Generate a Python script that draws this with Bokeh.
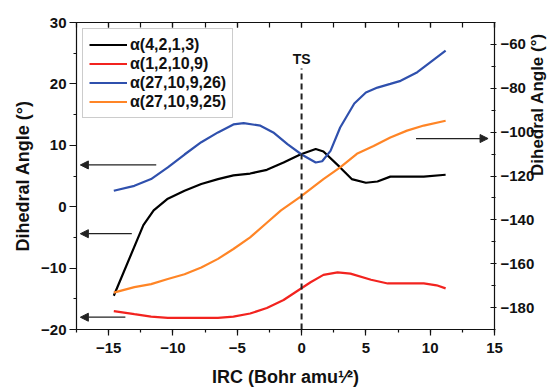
import math
from bokeh.plotting import figure
from bokeh.models import (Range1d, LinearAxis, Arrow, NormalHead, Label,
                          Legend, LegendItem, SingleIntervalTicker, CustomJSTickFormatter)
from bokeh.embed import file_html
from bokeh.resources import INLINE

# ---------------- data ----------------
black_x = [-14.6, -12.3, -11.5, -10.4, -9.1, -7.8, -6.5, -5.3, -4.0, -2.7, -1.4, -0.1,
           1.1, 1.7, 3.0, 3.9, 5.0, 5.9, 6.9, 8.2, 9.5, 11.2]
black_y = [-14.5, -3.0, -0.6, 1.3, 2.6, 3.7, 4.5, 5.1, 5.4, 6.0, 7.2, 8.5,
           9.4, 9.0, 6.4, 4.5, 3.9, 4.1, 4.9, 4.9, 4.9, 5.2]

red_x = [-14.6, -13.0, -11.7, -10.4, -7.8, -6.5, -5.3, -4.0, -2.7, -1.4, -0.1, 0.7,
         1.7, 2.8, 3.8, 5.4, 6.7, 8.2, 9.5, 10.5, 11.2]
red_y = [-17.0, -17.5, -17.9, -18.1, -18.1, -18.1, -17.9, -17.4, -16.5, -15.2, -13.4, -12.3,
         -11.1, -10.7, -10.9, -11.9, -12.5, -12.5, -12.5, -12.8, -13.3]

blue_x = [-14.6, -13.0, -11.7, -10.4, -9.1, -7.8, -6.5, -5.3, -4.5, -3.2, -2.2, -1.1, 0.0,
          1.1, 1.6, 2.25, 3.0, 4.1, 5.0, 5.9, 6.9, 7.7, 9.0, 10.0, 11.2]
blue_y = [2.6, 3.4, 4.5, 6.4, 8.5, 10.5, 12.1, 13.4, 13.6, 13.2, 12.1, 10.2, 8.5,
          7.2, 7.4, 9.1, 12.9, 16.8, 18.6, 19.4, 20.0, 20.5, 21.9, 23.5, 25.4]

# orange series is read on the right-hand axis
orange_x = [-14.6, -13.0, -11.7, -10.4, -9.1, -7.8, -6.5, -5.3, -4.0, -2.7, -1.6, -0.1,
            1.7, 3.0, 4.3, 5.6, 6.9, 8.2, 9.5, 11.2]
orange_y = [-173.2, -170.7, -169.3, -167.0, -164.8, -161.7, -157.8, -153.3, -148.0, -141.3,
            -135.7, -129.5, -121.4, -116.1, -109.9, -106.3, -102.4, -99.3, -97.0, -94.8]

labels = ["\u03b1(4,2,1,3)", "\u03b1(1,2,10,9)", "\u03b1(27,10,9,26)", "\u03b1(27,10,9,25)"]
colors = ["#000000", "#f2231f", "#2f50ad", "#ff8526"]

# arrows (left-axis coordinates): start x, end x, y
arrow_x0 = [-11.3, -13.2, -13.7, 8.9]
arrow_x1 = [-17.2, -17.2, -17.2, 14.5]
arrow_y = [6.8, -4.4, -18.0, 11.1]

ts_x = 0
ts_top = 22.5

X_RANGE = (-17.5, 15)
Y_LEFT = (-20, 30)
Y_RIGHT = (-190, -50)

X_TITLE = "IRC (Bohr amu\u00b9\u2044\u00b2)"
Y_TITLE = "Dihedral Angle (\u00b0)"

FONT = "Liberation Sans"

# ---------------- figure ----------------
p = figure(width=559, height=391, output_backend="svg", toolbar_location=None,
           x_range=Range1d(*X_RANGE), y_range=Range1d(*Y_LEFT),
           min_border_left=76, min_border_right=65, min_border_top=22, min_border_bottom=62)
p.extra_y_ranges = {"right": Range1d(*Y_RIGHT)}
p.grid.visible = False
p.outline_line_color = None
p.background_fill_color = "white"
p.border_fill_color = "white"

def style_axis(ax):
    ax.axis_line_color = "#111111"
    ax.axis_line_width = 1.2
    ax.major_tick_line_color = "#111111"
    ax.minor_tick_line_color = "#111111"
    ax.major_tick_line_width = 1.2
    ax.minor_tick_line_width = 1.2
    ax.major_label_text_font = FONT
    ax.major_label_text_font_style = "bold"
    ax.major_label_text_font_size = "15px"
    ax.major_label_text_color = "#111111"
    ax.axis_label_text_font = FONT
    ax.axis_label_text_font_style = "bold"
    ax.axis_label_text_font_size = "18px"
    ax.axis_label_text_color = "#111111"

# bottom axis
xa = p.xaxis[0]
xa.ticker = SingleIntervalTicker(interval=5, num_minor_ticks=2)
style_axis(xa)
xa.major_tick_out = 6
xa.major_tick_in = 0
xa.minor_tick_out = 3
xa.minor_tick_in = 0
xa.major_label_standoff = 7
xa.axis_label = X_TITLE
xa.axis_label_standoff = 11

# left axis
ya = p.yaxis[0]
ya.ticker = SingleIntervalTicker(interval=10, num_minor_ticks=2)
style_axis(ya)
ya.major_tick_out = 7
ya.major_tick_in = 0
ya.minor_tick_out = 3
ya.minor_tick_in = 0
ya.major_label_standoff = 3
ya.axis_label = Y_TITLE
ya.axis_label_standoff = 5

# top axis (mirror, ticks inward, no labels)
ta = LinearAxis(ticker=SingleIntervalTicker(interval=5, num_minor_ticks=2),
                formatter=CustomJSTickFormatter(code="return ''"))
style_axis(ta)
ta.major_label_standoff = 0
ta.major_tick_in = 5
ta.major_tick_out = 0
ta.minor_tick_in = 5
ta.minor_tick_out = 0
p.add_layout(ta, "above")

# right axis
ra = LinearAxis(y_range_name="right", ticker=SingleIntervalTicker(interval=20, num_minor_ticks=2))
style_axis(ra)
ra.major_tick_in = 4
ra.major_tick_out = 2
ra.minor_tick_in = 3
ra.minor_tick_out = 1
ra.major_label_standoff = 4
ra.axis_label = Y_TITLE
ra.axis_label_standoff = 0
ra.axis_label_text_font_size = "17px"
if "axis_label_orientation" in ra.properties():
    ra.axis_label_orientation = math.pi / 2
p.add_layout(ra, "right")

# ---------------- curves ----------------
r_black = p.line(black_x, black_y, line_color=colors[0], line_width=2.2)
r_red = p.line(red_x, red_y, line_color=colors[1], line_width=2.2)
r_blue = p.line(blue_x, blue_y, line_color=colors[2], line_width=2.2)
r_orange = p.line(orange_x, orange_y, line_color=colors[3], line_width=2.2, y_range_name="right")

# TS dashed line and label
p.line([ts_x, ts_x], [Y_LEFT[0], ts_top], line_color="#222222", line_width=2, line_dash="6 4")
p.add_layout(Label(x=ts_x, y=ts_top + 0.3, text="TS", text_font=FONT, text_font_style="bold",
                   text_font_size="14px", text_align="center", text_baseline="bottom",
                   text_color="#111111"))

# arrows
for x0, x1, yy in zip(arrow_x0, arrow_x1, arrow_y):
    p.add_layout(Arrow(x_start=x0, y_start=yy, x_end=x1, y_end=yy,
                       line_color="#222222", line_width=1.2,
                       end=NormalHead(size=8, fill_color="#222222", line_color="#222222")))

# legend
legend = Legend(items=[LegendItem(label=l, renderers=[r]) for l, r in
                       zip(labels, [r_black, r_red, r_blue, r_orange])],
                location="top_left")
legend.margin = 6
legend.padding = 6
legend.spacing = 0
legend.label_height = 19
legend.glyph_height = 19
legend.glyph_width = 38
legend.label_standoff = 3
legend.label_text_font = FONT
legend.label_text_font_style = "bold"
legend.label_text_font_size = "16px"
legend.label_text_color = "#111111"
legend.border_line_color = "#999999"
legend.border_line_width = 1
legend.background_fill_alpha = 1
p.add_layout(legend)

open("out.html", "w").write(file_html(p, INLINE))
